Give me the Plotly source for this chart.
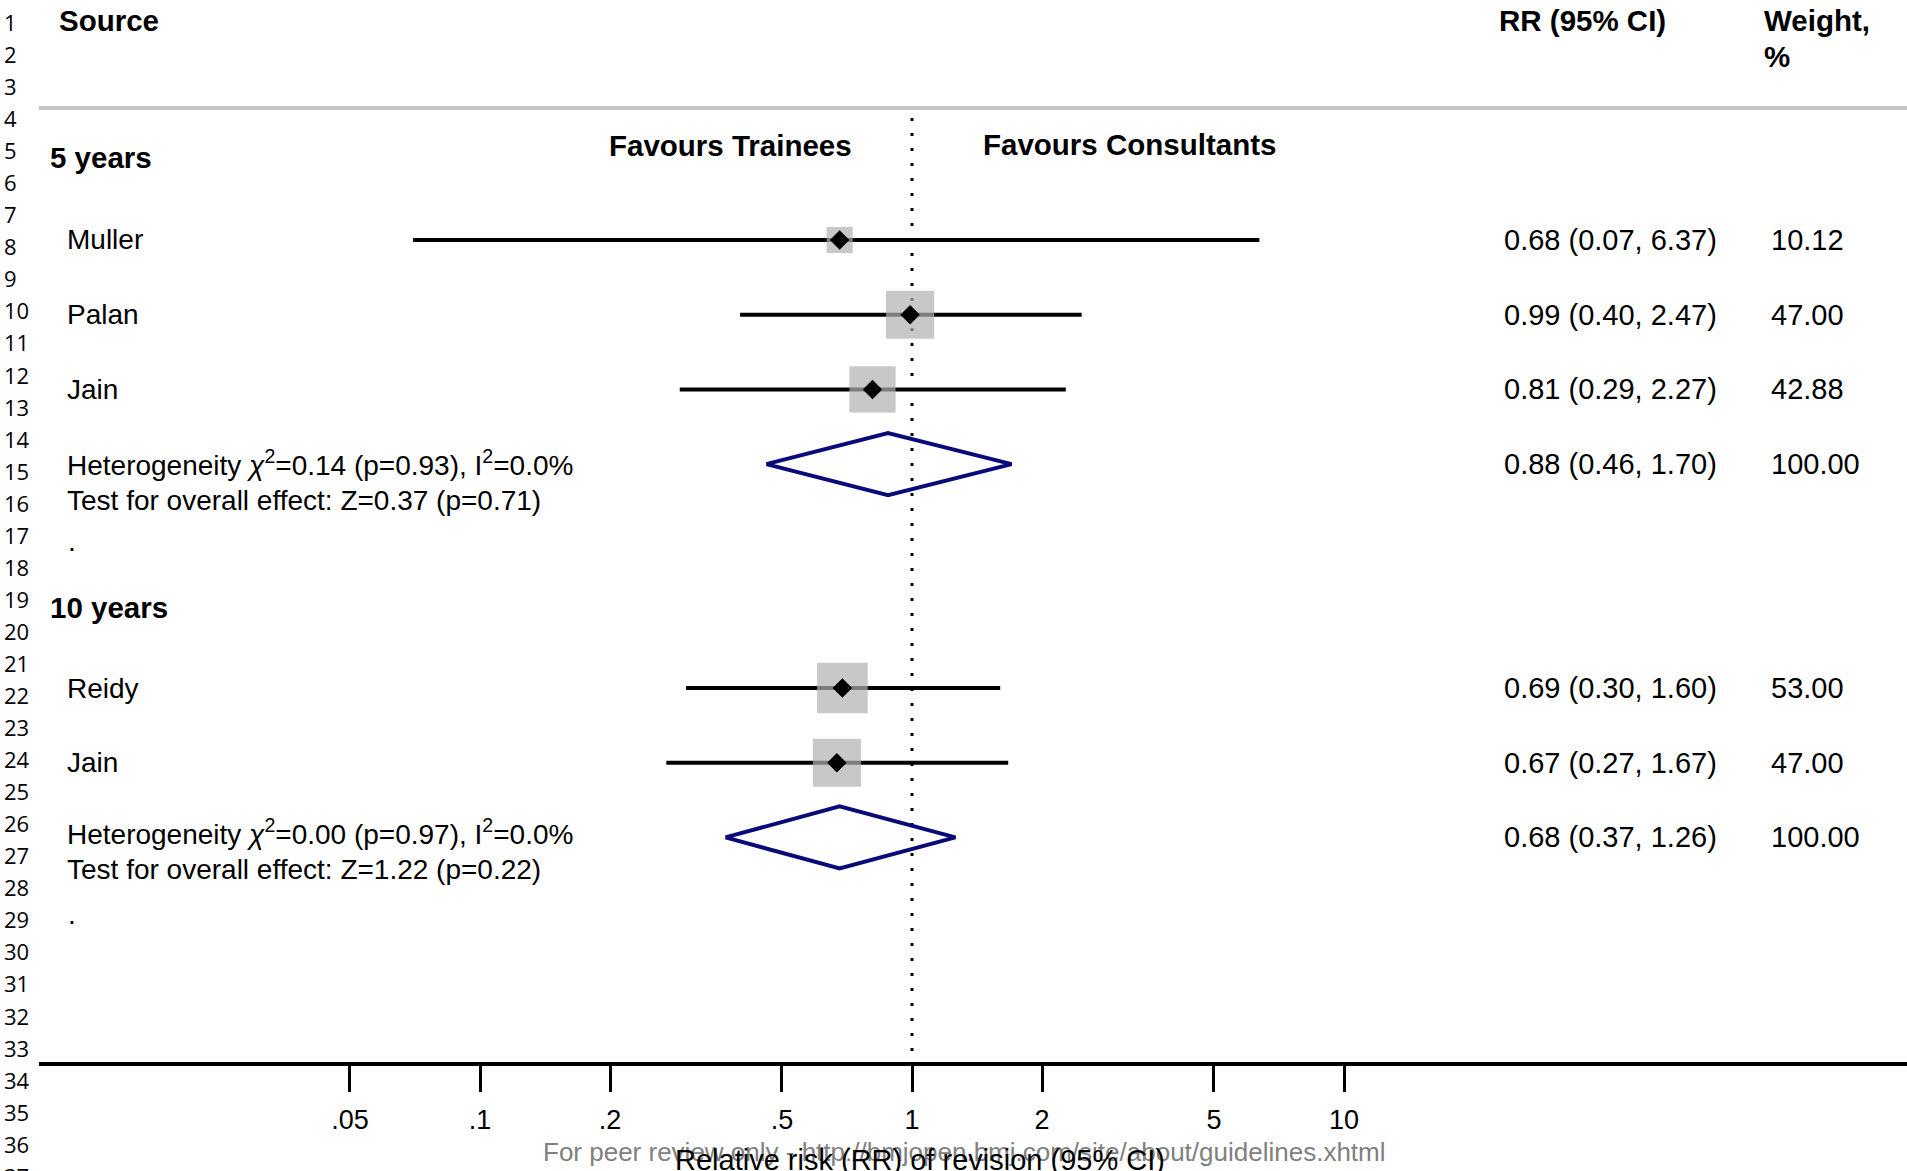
import math
import plotly.graph_objects as go

W, H = 1907, 1171

# ---------------- data ----------------
group_labels = ["5 years", "10 years"]
studies_5 = ["Muller", "Palan", "Jain"]
rr_5 = [0.68, 0.99, 0.81]
lo_5 = [0.07, 0.40, 0.29]
hi_5 = [6.37, 2.47, 2.27]
wt_5 = [10.12, 47.00, 42.88]
pooled_5 = [0.88, 0.46, 1.70]  # est, lo, hi
het_5 = ["Heterogeneity <i>χ</i><sup>2</sup>=0.14 (p=0.93), I<sup>2</sup>=0.0%",
         "Test for overall effect: Z=0.37 (p=0.71)"]

studies_10 = ["Reidy", "Jain"]
rr_10 = [0.69, 0.67]
lo_10 = [0.30, 0.27]
hi_10 = [1.60, 1.67]
wt_10 = [53.00, 47.00]
pooled_10 = [0.68, 0.37, 1.26]
het_10 = ["Heterogeneity <i>χ</i><sup>2</sup>=0.00 (p=0.97), I<sup>2</sup>=0.0%",
          "Test for overall effect: Z=1.22 (p=0.22)"]

tick_vals = [0.05, 0.1, 0.2, 0.5, 1, 2, 5, 10]
tick_text = [".05", ".1", ".2", ".5", "1", "2", "5", "10"]
line_numbers = list(range(1, 38))

favours_left = "Favours Trainees"
favours_right = "Favours Consultants"
x_title = "Relative risk (RR) of revision (95% CI)"
watermark = "For peer review only - http://bmjopen.bmj.com/site/about/guidelines.xhtml"

# ---------------- layout geometry (pixels) ----------------
AX_Y = 1062          # pixel row of x axis line
X_LEFT = 39          # left edge of plot lines
X_ONE = 912          # pixel of RR = 1
PX_DEC = 432         # pixels per decade
ROW = 74.7
G1_Y0 = 240
G2_Y0 = 688
LBL_X = 65

FONT = "Liberation Sans, Arial, Helvetica, sans-serif"
REG = 28
RRSZ = 29
BOLD = 29.5

def pxx(x):
    return x / W

def pxy(y):
    return 1 - y / H

def txt(x, y, text, size=REG, anchor="left", color="black", family=FONT):
    fig.add_annotation(x=pxx(x), y=pxy(y), xref="paper", yref="paper",
                       text=text, showarrow=False, xanchor=anchor, yanchor="middle",
                       font=dict(family=family, size=size, color=color))

x_range = [(X_LEFT - X_ONE) / PX_DEC, (W - X_ONE) / PX_DEC]

fig = go.Figure()

def add_group(studies, rr, lo, hi, wt, pooled, y0):
    ys = [y0 + i * ROW for i in range(len(studies))]
    # CI lines
    xs, yy = [], []
    for l, h, y in zip(lo, hi, ys):
        xs += [l, h, None]
        yy += [y, y, None]
    fig.add_trace(go.Scatter(x=xs, y=yy, mode="lines",
                             line=dict(color="black", width=4),
                             hoverinfo="skip", showlegend=False))
    # weight squares
    fig.add_trace(go.Scatter(x=rr, y=ys, mode="markers",
                             marker=dict(symbol="square", color="#b0b0b0",
                                         size=[7 + 6.0 * math.sqrt(w) for w in wt],
                                         line=dict(width=0)),
                             hoverinfo="skip", showlegend=False))
    # point estimate
    fig.add_trace(go.Scatter(x=rr, y=ys, mode="markers",
                             marker=dict(symbol="diamond", color="black", size=15,
                                         line=dict(width=0)),
                             hoverinfo="skip", showlegend=False))
    # pooled diamond
    yp = y0 + len(studies) * ROW
    est, plo, phi = pooled
    hh = 31
    fig.add_trace(go.Scatter(x=[plo, est, phi, est, plo],
                             y=[yp, yp - hh, yp, yp + hh, yp],
                             mode="lines", line=dict(color="#0a0a78", width=4),
                             hoverinfo="skip", showlegend=False))
    # texts
    for name, r, l, h, w, y in zip(studies, rr, lo, hi, wt, ys):
        txt(LBL_X, y, name)
        txt(1502, y, f"{r:.2f} ({l:.2f}, {h:.2f})", size=RRSZ)
        txt(1769, y, f"{w:.2f}", size=RRSZ)
    txt(1502, yp, f"{est:.2f} ({plo:.2f}, {phi:.2f})", size=RRSZ)
    txt(1769, yp, f"{sum(wt):.2f}", size=RRSZ)
    return yp

yp1 = add_group(studies_5, rr_5, lo_5, hi_5, wt_5, pooled_5, G1_Y0)
yp2 = add_group(studies_10, rr_10, lo_10, hi_10, wt_10, pooled_10, G2_Y0)

for het, yp, dy in ((het_5, yp1, 0), (het_10, yp2, -4)):
    txt(LBL_X, yp - 1 + dy, het[0])
    txt(LBL_X, yp + 36 + dy, het[1])
    txt(LBL_X + 1, yp + 77, ".")

# group headers
for lab, y in zip(group_labels, [157, 607]):
    txt(48, y, f"<b>{lab}</b>", size=BOLD)

# column headers
txt(57, 21, "<b>Source</b>", size=BOLD)
txt(1497, 21, "<b>RR (95% CI)</b>", size=BOLD)
txt(1762, 21, "<b>Weight,</b>", size=BOLD)
txt(1762, 56, "<b>%</b>", size=BOLD)

# favours labels
txt(730, 145, f"<b>{favours_left}</b>", size=BOLD, anchor="center")
txt(1129, 144, f"<b>{favours_right}</b>", size=BOLD, anchor="center")

# line numbers
for n in line_numbers:
    txt(2, 22 + (n - 1) * 32.05, str(n), size=22, family="Open Sans, sans-serif")

# watermark and axis title
txt(964, 1152, watermark, size=26, anchor="center", color="#808080")
txt(920, 1160, x_title, size=29, anchor="center")

# top separator (gray) and null line (dotted)
fig.add_shape(type="line", xref="paper", yref="y", x0=pxx(X_LEFT), x1=1, y0=108, y1=108,
              line=dict(color="#c4c4c4", width=4))
fig.add_shape(type="line", xref="x", yref="y", x0=1, x1=1, y0=118, y1=AX_Y,
              line=dict(color="black", width=3, dash="3px,12px"), layer="below")

fig.update_layout(
    width=W, height=H,
    margin=dict(l=0, r=0, t=0, b=0),
    paper_bgcolor="white", plot_bgcolor="white",
    showlegend=False,
    xaxis=dict(type="log", range=x_range, domain=[pxx(X_LEFT), 1],
               tickvals=tick_vals, ticktext=tick_text,
               ticks="outside", ticklen=26, tickwidth=3, tickcolor="black",
               showline=True, linewidth=4, linecolor="black",
               showgrid=False, zeroline=False, ticklabelstandoff=5,
               tickfont=dict(family=FONT, size=27, color="black"),
               fixedrange=True),
    yaxis=dict(range=[AX_Y, 0], domain=[1 - AX_Y / H, 1], visible=False,
               showgrid=False, zeroline=False, fixedrange=True),
)

fig.write_html("out.html")
